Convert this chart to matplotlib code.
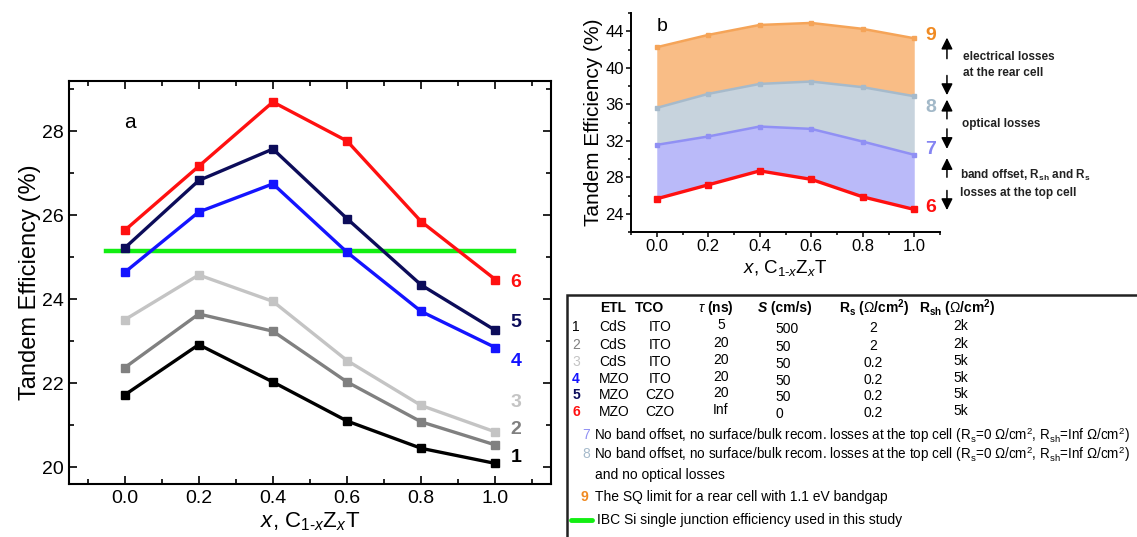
import matplotlib
matplotlib.use("Agg")
import matplotlib.pyplot as plt
from matplotlib.patches import Rectangle
from matplotlib.ticker import MultipleLocator, FormatStrFormatter

plt.rcParams['font.family'] = ['Liberation Sans', 'DejaVu Sans']
plt.rcParams['mathtext.fontset'] = 'custom'
plt.rcParams['mathtext.rm'] = 'Liberation Sans'
plt.rcParams['mathtext.it'] = 'Liberation Sans:italic'
plt.rcParams['mathtext.bf'] = 'Liberation Sans:bold'

# composition x in C(1-x)Z(x)T
x = [0.0, 0.2, 0.4, 0.6, 0.8, 1.0]

# tandem efficiencies (%) for device cases 1-6
eff_1 = [21.72, 22.92, 22.03, 21.10, 20.45, 20.09]
eff_2 = [22.37, 23.65, 23.24, 22.03, 21.08, 20.53]
eff_3 = [23.51, 24.58, 23.95, 22.54, 21.47, 20.84]
eff_4 = [24.64, 26.08, 26.75, 25.12, 23.71, 22.85]
eff_5 = [25.22, 26.83, 27.58, 25.92, 24.34, 23.26]
eff_6 = [25.64, 27.17, 28.70, 27.77, 25.85, 24.47]
# ideal cases 7-9
eff_7 = [31.55, 32.47, 33.56, 33.30, 31.91, 30.46]
eff_8 = [35.60, 37.14, 38.23, 38.49, 37.87, 36.88]
eff_9 = [42.25, 43.60, 44.69, 44.91, 44.26, 43.23]
# IBC Si single junction reference
ibc_si = 25.15

case_names = ['1', '2', '3', '4', '5', '6']
etl = ['CdS', 'CdS', 'CdS', 'MZO', 'MZO', 'MZO']
tco = ['ITO', 'ITO', 'ITO', 'ITO', 'CZO', 'CZO']
tau = ['5', '20', '20', '20', '20', 'Inf']
srv = ['500', '50', '50', '50', '50', '0']
rs = ['2', '2', '0.2', '0.2', '0.2', '0.2']
rsh = ['2k', '2k', '5k', '5k', '5k', '5k']

c1, c2, c3 = '#000000', '#808080', '#c4c4c4'
c4, c5, c6 = '#1414ff', '#0c0c5a', '#ff1010'
c7, c8, c9 = '#9090f4', '#a6bacb', '#f5a458'
green = '#12ee12'

W, H = 1137, 537


def box(x0, y0, x1, y1):
    return [x0 / W, 1 - y1 / H, (x1 - x0) / W, (y1 - y0) / H]


def ftext(px, py, s, **kw):
    kw.setdefault('va', 'center')
    kw.setdefault('fontsize', 10)
    fig.text(px / W, 1 - py / H, s, **kw)


fig = plt.figure(figsize=(W / 100, H / 100), dpi=100)

# ---- panel a ----
ax = fig.add_axes(box(69, 81, 551, 484))
series_a = [(eff_1, c1), (eff_2, c2), (eff_3, c3), (eff_4, c4), (eff_5, c5), (eff_6, c6)]
ax.plot([-0.05, 1.05], [ibc_si, ibc_si], color=green, lw=3.2, zorder=1)
for ys, c in series_a:
    ax.plot(x, ys, color=c, lw=2.4, marker='s', ms=5.8, zorder=3)
ax.set_xlim(-0.15, 1.15)
ax.set_ylim(19.6, 29.2)
ax.xaxis.set_major_locator(MultipleLocator(0.2))
ax.xaxis.set_minor_locator(MultipleLocator(0.1))
ax.yaxis.set_major_locator(MultipleLocator(2))
ax.yaxis.set_minor_locator(MultipleLocator(1))
ax.xaxis.set_major_formatter(FormatStrFormatter('%.1f'))
ax.tick_params(which='both', direction='in', top=True, right=True,
               labelsize=14, width=1.2)
ax.tick_params(which='major', length=6, pad=4)
ax.tick_params(which='minor', length=3.5)
for sp in ax.spines.values():
    sp.set_linewidth(1.5)
ax.set_xlabel(r'$x$, C$_{\mathit{1}\text{-}x}$Z$_x$T', fontsize=16, labelpad=3)
ax.set_ylabel('Tandem Efficiency (%)', fontsize=17, labelpad=0.5)
ax.text(0.0, 28.2, 'a', fontsize=15, ha='left', va='center')
label_y_a = [20.22, 20.9, 21.54, 22.52, 23.45, 24.4]
for (ys, c), name, ly in zip(series_a, case_names, label_y_a):
    ax.text(1.055, ly, name, color=c, fontsize=14, fontweight='bold',
            ha='center', va='center')

# ---- panel b ----
bx = fig.add_axes(box(631, 13, 940, 232))
bx.fill_between(x, eff_8, eff_9, color='#f9bd86', lw=0, zorder=1)
bx.fill_between(x, eff_7, eff_8, color='#c7d3dd', lw=0, zorder=1)
bx.fill_between(x, eff_6, eff_7, color='#babaf9', lw=0, zorder=1)
bx.plot(x, eff_9, color=c9, lw=1.8, marker='s', ms=3.5, zorder=3)
bx.plot(x, eff_8, color=c8, lw=1.8, marker='s', ms=3.5, zorder=3)
bx.plot(x, eff_7, color=c7, lw=1.8, marker='s', ms=3.5, zorder=3)
bx.plot(x, eff_6, color=c6, lw=2.4, marker='s', ms=4.5, zorder=3)
bx.set_xlim(-0.1, 1.1)
bx.set_ylim(22, 46)
bx.xaxis.set_major_locator(MultipleLocator(0.2))
bx.xaxis.set_minor_locator(MultipleLocator(0.1))
bx.yaxis.set_major_locator(MultipleLocator(4))
bx.yaxis.set_minor_locator(MultipleLocator(2))
bx.xaxis.set_major_formatter(FormatStrFormatter('%.1f'))
bx.tick_params(which='both', direction='out', labelsize=12, width=1.1)
bx.tick_params(which='major', length=3.5, pad=1.5)
bx.tick_params(which='minor', length=2)
bx.spines['top'].set_visible(False)
bx.spines['right'].set_visible(False)
for sp in ('left', 'bottom'):
    bx.spines[sp].set_linewidth(1.4)
bx.set_xlabel(r'$x$, C$_{\mathit{1}\text{-}x}$Z$_x$T', fontsize=13.5, labelpad=3)
bx.set_ylabel('Tandem Efficiency (%)', fontsize=15, labelpad=2)
bx.text(0.0, 44.5, 'b', fontsize=14, ha='left', va='center')

label_b = [('9', 43.5, '#f08a22'), ('8', 35.6, '#a2b8c8'),
           ('7', 31.0, '#8484f2'), ('6', 24.7, c6)]
for name, ly, c in label_b:
    bx.text(1.065, ly, name, color=c, fontsize=14, fontweight='bold',
            ha='center', va='center', clip_on=False)

arrows = [(41.0, 43.3), (39.15, 37.0), (34.4, 36.5),
          (33.3, 31.1), (28.0, 30.1), (26.55, 24.4)]
for y0, y1 in arrows:
    bx.annotate('', xy=(1.127, y1), xytext=(1.127, y0),
                arrowprops=dict(arrowstyle='-|>', color='black', lw=1.1,
                                mutation_scale=17, shrinkA=0, shrinkB=0),
                annotation_clip=False)

bx.text(1.19, 40.3, 'electrical losses\nat the rear cell', fontsize=8.5,
        fontweight='bold', color='#222222', ha='left', va='center',
        linespacing=1.35, clip_on=False)
bx.text(1.187, 33.8, 'optical losses', fontsize=8.5, fontweight='bold',
        color='#222222', ha='left', va='center', clip_on=False)
bx.text(1.178, 27.3,
        r'band offset, R$_\mathbf{sh}$ and R$_\mathbf{s}$' + '\nlosses at the top cell',
        fontsize=8.5, fontweight='bold', color='#222222', ha='left',
        va='center', linespacing=1.45, clip_on=False)

# ---- parameter table ----
fig.add_artist(Rectangle((567 / W, 1 - 545 / H), 600 / W, (545 - 295) / H,
                         transform=fig.transFigure, fill=False,
                         edgecolor='#222222', lw=1.8))

hy = 308
ftext(600, hy, 'ETL', fontweight='bold')
ftext(649, hy, 'TCO', fontweight='bold', ha='center')
ftext(716, hy, r'$\tau$ (ns)', ha='center', fontweight='bold')
ftext(758, hy, 'S', fontweight='bold', fontstyle='italic')
ftext(767, hy, ' (cm/s)', fontweight='bold')
ftext(839, hy, r'R$_\mathbf{s}$ ($\Omega$/cm$^\mathbf{2}$)', fontweight='bold')
ftext(919, hy, r'R$_\mathbf{sh}$ ($\Omega$/cm$^\mathbf{2}$)', fontweight='bold')

row_y = [327, 345, 362, 379, 395, 412]
num_colors = [c1, c2, c3, c4, c5, c6]
num_bold = [False, False, False, True, True, True]
for i, ry in enumerate(row_y):
    ftext(576, ry, case_names[i], color=num_colors[i], ha='center',
          fontweight='bold' if num_bold[i] else 'normal')
    ftext(599, ry, etl[i])
    ftext(660, ry, tco[i], ha='center')
    ftext(721, ry - 2, tau[i], ha='center')
    ftext(775, ry + 2, srv[i])
    ftext(873, ry + 1, rs[i], ha='center')
    ftext(953, ry - 1, rsh[i])

ideal_text = (r'No band offset, no surface/bulk recom. losses at the top cell '
              r'(R$_\mathrm{s}$=0 $\Omega$/cm$^2$, R$_\mathrm{sh}$=Inf $\Omega$/cm$^2$)')
ftext(586, 435, '7', color=c7, ha='center')
ftext(594, 435, ideal_text, fontsize=9.75)
ftext(586, 454, '8', color=c8, ha='center')
ftext(594, 454, ideal_text, fontsize=9.75)
ftext(595, 475, 'and no optical losses')
ftext(584, 497, '9', color='#f08a22', ha='center', fontweight='bold')
ftext(595, 497, 'The SQ limit for a rear cell with 1.1 eV bandgap')
fig.add_artist(plt.Line2D([571 / W, 592 / W], [1 - 520 / H, 1 - 520 / H],
                          transform=fig.transFigure, color=green, lw=3.5,
                          solid_capstyle='round'))
ftext(597, 520, 'IBC Si single junction efficiency used in this study')

fig.savefig('out.png', dpi=100)
